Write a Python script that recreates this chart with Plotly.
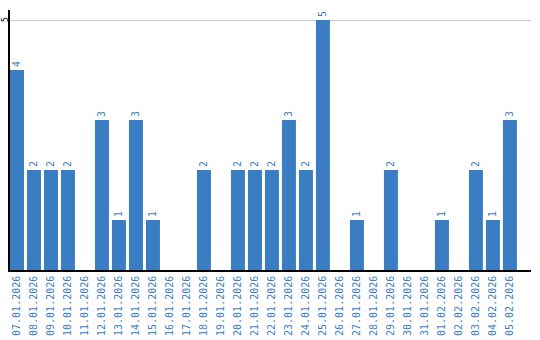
import plotly.graph_objects as go

dates = ["07.01.2026", "08.01.2026", "09.01.2026", "10.01.2026", "11.01.2026",
         "12.01.2026", "13.01.2026", "14.01.2026", "15.01.2026", "16.01.2026",
         "17.01.2026", "18.01.2026", "19.01.2026", "20.01.2026", "21.01.2026",
         "22.01.2026", "23.01.2026", "24.01.2026", "25.01.2026", "26.01.2026",
         "27.01.2026", "28.01.2026", "29.01.2026", "30.01.2026", "31.01.2026",
         "01.02.2026", "02.02.2026", "03.02.2026", "04.02.2026", "05.02.2026"]
counts = [4, 2, 2, 2, 0, 3, 1, 3, 1, 0,
          0, 2, 0, 2, 2, 2, 3, 2, 5, 0,
          1, 0, 2, 0, 0, 1, 0, 2, 1, 3]
y_ticks = [5]

blue = "#3b7dc2"
labels = [str(v) if v > 0 else "" for v in counts]

fig = go.Figure(go.Bar(
    x=list(range(len(dates))), y=counts, text=labels,
    textposition="outside", textangle=-90, cliponaxis=False,
    textfont=dict(family="DejaVu Sans Mono", size=10, color=blue),
    marker=dict(color=blue, line=dict(width=0)),
))

for t in y_ticks:
    fig.add_annotation(
        x=0, xref="paper", y=t, yref="y", text=str(t), showarrow=False,
        textangle=-90, xanchor="center", yanchor="middle", xshift=-5,
        borderpad=0,
        font=dict(family="DejaVu Sans Mono", size=8, color="black"),
    )

fig.update_layout(
    width=540, height=340,
    margin=dict(l=10, r=9, t=10, b=70, autoexpand=False),
    paper_bgcolor="white", plot_bgcolor="white",
    bargap=3 / 17, showlegend=False,
    xaxis=dict(
        tickvals=list(range(len(dates))), ticktext=dates, tickangle=-90,
        range=[-0.41, 30.24], showgrid=False, zeroline=False, automargin=False,
        showline=True, linecolor="black", linewidth=1.5, ticks="",
        tickfont=dict(family="DejaVu Sans Mono", size=10, color=blue),
    ),
    yaxis=dict(
        range=[0, 5.2], tickvals=y_ticks, showticklabels=False,
        showgrid=True, gridcolor="#cccccc", zeroline=False, automargin=False,
        showline=True, linecolor="black", linewidth=1.5, ticks="",
    ),
)

fig.write_html("out.html")
